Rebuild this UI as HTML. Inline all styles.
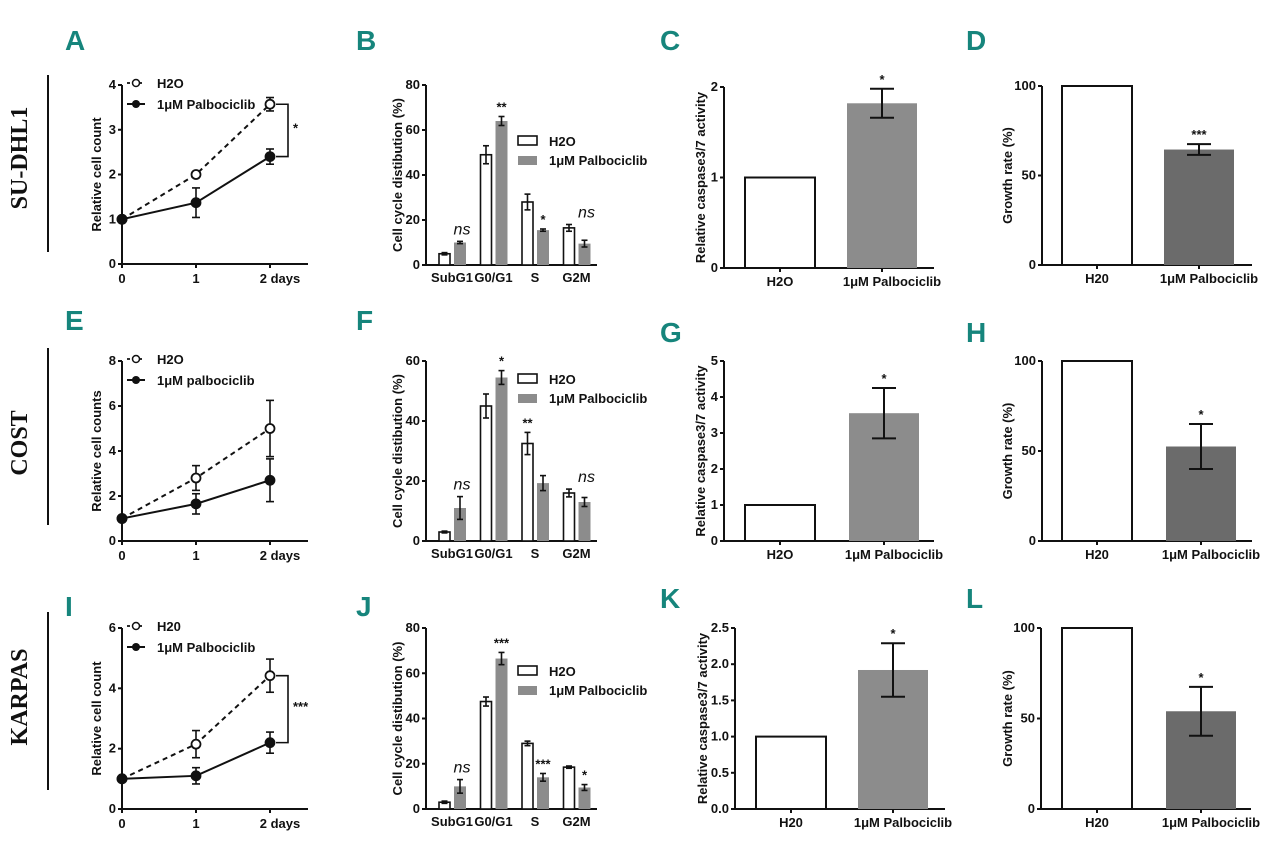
<!DOCTYPE html>
<html><head><meta charset="utf-8"><style>
body{margin:0;background:#fff;}
svg{display:block;font-family:"Liberation Sans",Arial,sans-serif;}
.t{font-size:13px;font-weight:bold;fill:#111;}
.pl{font-family:"Liberation Sans Narrow","Liberation Sans",sans-serif;font-weight:bold;font-size:28px;fill:#16857c;}
.rl{font-family:"Liberation Serif",serif;font-weight:bold;font-size:24px;fill:#111;}
</style></head><body>
<svg id="fig" width="1280" height="846" viewBox="0 0 1280 846"></svg>
<script>
// ---- data ----
const days=[0,1,2];
const aH2O=[1,2.0,3.57], aH2OErr=[0,0.05,0.15], aPal=[1,1.37,2.4], aPalErr=[0,0.33,0.17];
const eH2O=[1,2.8,5.0], eH2OErr=[0,0.55,1.25], ePal=[1,1.65,2.7], ePalErr=[0,0.45,0.95];
const iH2O=[1,2.15,4.42], iH2OErr=[0,0.45,0.55], iPal=[1,1.1,2.2], iPalErr=[0,0.27,0.35];
const phases=["SubG1","G0/G1","S","G2M"];
const bH2O=[5,49,28,16.5], bH2OErr=[0.5,4,3.5,1.5], bPal=[10,64,15.5,9.5], bPalErr=[0.5,2,0.5,1.5];
const bSig=["ns","**","*","ns"];
const fH2O=[3,45,32.5,16], fH2OErr=[0.3,4,3.7,1.3], fPal=[11,54.5,19.3,13], fPalErr=[3.8,2.3,2.5,1.5];
const fSig=["ns","*","**","ns"];
const jH2O=[3,47.5,29,18.5], jH2OErr=[0.5,2,1,0.5], jPal=[10,66.5,14,9.5], jPalErr=[3,2.7,1.7,1.3];
const jSig=["ns","***","***","*"];
const cVals=[1,1.82], cErr=[0,0.16];
const gVals=[1,3.55], gErr=[0,0.7];
const kVals=[1,1.92], kErr=[0,0.37];
const dVals=[100,64.5], dErr=[0,3];
const hVals=[100,52.5], hErr=[0,12.5];
const lVals=[100,54], lErr=[0,13.5];

const S=document.getElementById('fig');const NS='http://www.w3.org/2000/svg';
function el(tag,attrs,parent,txt){const e=document.createElementNS(NS,tag);for(const k in attrs)e.setAttribute(k,attrs[k]);if(txt!==undefined)e.textContent=txt;(parent||S).appendChild(e);return e;}
function txt(x,y,s,anchor,parent,cls,name,rot){const t=el('text',{x:x,y:y,'text-anchor':anchor||'middle','class':cls||'t'},parent,s);if(rot)t.setAttribute('transform','rotate(-90 '+x+' '+y+')');

return t;}
function line(x1,y1,x2,y2,p,w,dash){const l=el('line',{x1:x1,y1:y1,x2:x2,y2:y2,stroke:'#111','stroke-width':w||2},p);if(dash)l.setAttribute('stroke-dasharray',dash);return l;}
function grp(name){const g=el('g',{});

return g;}
function yAxis(g,x,y0,y1,vmax,ticks,fmt,title,tx){const sy=v=>y0-(v/vmax)*(y0-y1);line(x,y0+1,x,y1,g);
ticks.forEach(v=>{line(x-4,sy(v),x,sy(v),g);txt(x-6,sy(v)+4,fmt?v.toFixed(1):String(v),'end',g,'t','y-tick-label');});
txt(tx,(y0+y1)/2,title,'middle',g,'t','y-axis-title',true);return sy;}

function lineChart(name,y0,y1,vmax,ticks,H,HE,P,PE,title,leg1,leg2,sig){
 const g=grp(name);const x0=122,sx=d=>x0+d*74;
 const sy=yAxis(g,x0,y0,y1,vmax,ticks,false,title,101);
 line(x0-1,y0,308,y0,g);
 days.forEach((d,i)=>{line(sx(d),y0,sx(d),y0+4,g);txt(sx(d)+(i==2?10:0),y0+19,i==2?'2 days':String(d),'middle',g,'t','x-tick-label');});
 const ser=(V,E,dash,fill,nm)=>{const s=grp(nm);g.appendChild(s);
  el('polyline',{points:days.map((d,i)=>sx(d)+','+sy(V[i])).join(' '),fill:'none',stroke:'#111','stroke-width':2,'stroke-dasharray':dash},s);
  days.forEach((d,i)=>{if(E[i]>0.06){line(sx(d),sy(V[i]+E[i]),sx(d),sy(V[i]-E[i]),s,1.6);line(sx(d)-4,sy(V[i]+E[i]),sx(d)+4,sy(V[i]+E[i]),s,1.6);line(sx(d)-4,sy(V[i]-E[i]),sx(d)+4,sy(V[i]-E[i]),s,1.6);}
   const c=el('circle',{cx:sx(d),cy:sy(V[i]),r:4.5,fill:fill,stroke:'#111','stroke-width':1.8},s);
   
   });};
 ser(H,HE,'5,4','#fff','series-h2o');ser(P,PE,'none','#111','series-palbociclib');
 const ly1=y1-2,ly2=y1+19;
 line(127,ly1,145,ly1,g,1.8,'3,3');el('circle',{cx:136,cy:ly1,r:3.5,fill:'#fff',stroke:'#111','stroke-width':1.5},g);txt(157,ly1+5,leg1,'start',g,'t','legend-entry-h2o');
 line(127,ly2,145,ly2,g,2);el('circle',{cx:136,cy:ly2,r:4,fill:'#111'},g);txt(157,ly2+5,leg2,'start',g,'t','legend-entry-palbociclib');
 if(sig){const a=sy(H[2]),b=sy(P[2]);el('polyline',{points:'276,'+a+' 288,'+a+' 288,'+b+' 276,'+b,fill:'none',stroke:'#111','stroke-width':1.6},g);txt(293,(a+b)/2+2,sig,'start',g,'t','significance-mark');}
}
function groupChart(name,y0,y1,vmax,ticks,H,HE,P,PE,sig,legY){
 const g=grp(name);const x0=426,cx=i=>452+i*41.5;
 const sy=yAxis(g,x0,y0,y1,vmax,ticks,false,'Cell cycle distibution (%)',402);
 line(x0-1,y0,597,y0,g);
 phases.forEach((p,i)=>{txt(cx(i),y0+17,p,'middle',g,'t','x-tick-label');
  const hb=el('rect',{x:cx(i)-13,y:sy(H[i]),width:11,height:y0-sy(H[i]),fill:'#fff',stroke:'#111','stroke-width':1.6},g);
  
  const pb=el('rect',{x:cx(i)+2,y:sy(P[i]),width:12,height:y0-sy(P[i]),fill:'#8c8c8c'},g);
  
  [[cx(i)-7.5,H[i],HE[i]],[cx(i)+8,P[i],PE[i]]].forEach(([x,v,e])=>{line(x,sy(v+e),x,sy(v-e),g,1.6);line(x-3,sy(v+e),x+3,sy(v+e),g,1.6);line(x-3,sy(v-e),x+3,sy(v-e),g,1.6);});
  const s=sig[i];let sx2,top;
  if(s==='ns'){sx2=cx(i)+8;top=Math.max(H[i]+HE[i],P[i]+PE[i]);const t=txt(sx2+2,sy(top)-7,'ns','middle',g,'t','significance-mark');t.setAttribute('style','font-size:16px;font-style:italic;font-weight:normal');}
  else{const onH=(name==='chart-f'&&i===2);sx2=onH?cx(i)-7.5:cx(i)+8;top=onH?H[i]+HE[i]:P[i]+PE[i];txt(sx2,sy(top)-5,s,'middle',g,'t','significance-mark');}
 });
 el('rect',{x:518,y:legY,width:19,height:9,fill:'#fff',stroke:'#111','stroke-width':1.6},g);txt(549,legY+10,'H2O','start',g,'t','legend-entry-h2o');
 el('rect',{x:518,y:legY+20,width:19,height:9,fill:'#8c8c8c'},g);txt(549,legY+29,'1μM Palbociclib','start',g,'t','legend-entry-palbociclib');
}
function twoBar(name,ax,y0,y1,vmax,ticks,fmt,V,E,col,title,tx,cats,bx,sig){
 const g=grp(name);const sy=yAxis(g,ax,y0,y1,vmax,ticks,fmt,title,tx);
 line(ax-1,y0,ax+210,y0,g);
 V.forEach((v,i)=>{const x=bx[i],w=70;const r=el('rect',{x:x,y:sy(v),width:w,height:y0-sy(v),fill:i?col:'#fff',stroke:i?'none':'#111','stroke-width':2},g);
  
  line(x+w/2,y0,x+w/2,y0+4,g);txt(x+w/2+(i?10:0),y0+18,cats[i],'middle',g,'t','x-tick-label');
  if(E[i]>0){const c=x+w/2;line(c,sy(v+E[i]),c,sy(v-E[i]),g,2);line(c-12,sy(v+E[i]),c+12,sy(v+E[i]),g,2);line(c-12,sy(v-E[i]),c+12,sy(v-E[i]),g,2);
   txt(c,sy(v+E[i])-5,sig,'middle',g,'t','significance-mark');}});
}
[['A',65,50],['B',356,50],['C',660,50],['D',966,50],['E',65,330],['F',356,330],['G',660,342],['H',966,342],['I',65,616],['J',356,616],['K',660,608],['L',966,608]].forEach(([s,x,y])=>{txt(x,y,s,'start',null,'pl','panel-label-'+s.toLowerCase());});
[['SU-DHL1',158,75,252],['COST',443,348,525],['KARPAS',697,612,790]].forEach(([s,cy,a,b])=>{txt(27,cy,s,'middle',null,'rl','row-label-'+s.toLowerCase(),true);line(48,a,48,b,null,2);});

lineChart('chart-a',264,85,4,[0,1,2,3,4],aH2O,aH2OErr,aPal,aPalErr,'Relative cell count','H2O','1μM Palbociclib','*');
lineChart('chart-e',541,361,8,[0,2,4,6,8],eH2O,eH2OErr,ePal,ePalErr,'Relative cell counts','H2O','1μM palbociclib',null);
lineChart('chart-i',809,628,6,[0,2,4,6],iH2O,iH2OErr,iPal,iPalErr,'Relative cell count','H20','1μM Palbociclib','***');
groupChart('chart-b',265,85,80,[0,20,40,60,80],bH2O,bH2OErr,bPal,bPalErr,bSig,136);
groupChart('chart-f',541,361,60,[0,20,40,60],fH2O,fH2OErr,fPal,fPalErr,fSig,374);
groupChart('chart-j',809,628,80,[0,20,40,60,80],jH2O,jH2OErr,jPal,jPalErr,jSig,666);
twoBar('chart-c',724,268,87,2,[0,1,2],false,cVals,cErr,'#8c8c8c','Relative caspase3/7 activity',705,['H2O','1μM Palbociclib'],[745,847],'*');
twoBar('chart-g',724,541,361,5,[0,1,2,3,4,5],false,gVals,gErr,'#8c8c8c','Relative caspase3/7 activity',705,['H2O','1μM Palbociclib'],[745,849],'*');
twoBar('chart-k',735,809,628,2.5,[0,0.5,1,1.5,2,2.5],true,kVals,kErr,'#8c8c8c','Relative caspase3/7 activity',707,['H20','1μM Palbociclib'],[756,858],'*');
twoBar('chart-d',1042,265,86,100,[0,50,100],false,dVals,dErr,'#6b6b6b','Growth rate (%)',1012,['H20','1μM Palbociclib'],[1062,1164],'***');
twoBar('chart-h',1042,541,361,100,[0,50,100],false,hVals,hErr,'#6b6b6b','Growth rate (%)',1012,['H20','1μM Palbociclib'],[1062,1166],'*');
twoBar('chart-l',1041,809,628,100,[0,50,100],false,lVals,lErr,'#6b6b6b','Growth rate (%)',1012,['H20','1μM Palbociclib'],[1062,1166],'*');
</script>
</body></html>
